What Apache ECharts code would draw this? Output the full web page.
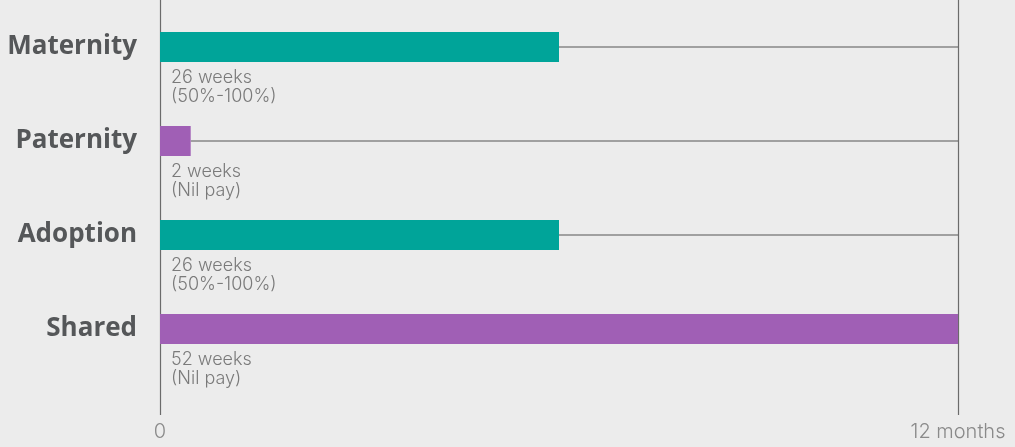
<!DOCTYPE html>
<html>
<head>
<meta charset="utf-8">
<script src="https://cdn.jsdelivr.net/npm/echarts@6/dist/echarts.min.js"></script>
<style>
  html, body { margin: 0; padding: 0; background: #ececec; }
  #chart { width: 1015px; height: 447px; }
</style>
</head>
<body>
<div id="chart"></div>
<script>
var categories = ['Maternity', 'Paternity', 'Adoption', 'Shared'];
var weeks = [26, 2, 26, 52];
var payNotes = ['(50%-100%)', '(Nil pay)', '(50%-100%)', '(Nil pay)'];
var axisMax = 52;
var tickLabels = ['0', '12 months'];

var teal = '#00a499';
var purple = '#a05fb5';

var myChart = echarts.init(document.getElementById('chart'));

var barData = weeks.map(function (w, i) {
    return {
        value: w,
        itemStyle: { color: payNotes[i] === '(Nil pay)' ? purple : teal }
    };
});
var connectorData = weeks.map(function (w, i) { return [w, i]; });

var option = {
    backgroundColor: '#ececec',
    animation: false,
    grid: [
        { left: 160, right: 57, top: 0, height: 376 },
        { left: 160, right: 57, top: 0, bottom: 32 }
    ],
    xAxis: [{
        gridIndex: 0, type: 'value', min: 0, max: axisMax,
        show: false
    }, {
        gridIndex: 1, type: 'value', min: 0, max: axisMax, interval: axisMax,
        axisLine: { show: false },
        axisTick: { show: false },
        splitLine: { show: true, lineStyle: { color: '#6b6b6b', width: 1.2 } },
        axisLabel: {
            margin: 7,
            color: '#8a8a8a',
            fontFamily: 'Inter',
            fontWeight: 300,
            fontSize: 20,
            formatter: function (v) { return v === 0 ? tickLabels[0] : tickLabels[1]; }
        }
    }],
    yAxis: [{
        gridIndex: 0, type: 'category', inverse: true, data: categories,
        axisLine: { show: false },
        axisTick: { show: false },
        axisLabel: {
            margin: 23,
            color: '#555759',
            fontFamily: 'Open Sans',
            fontWeight: 'bold',
            fontSize: 26
        }
    }, {
        gridIndex: 1, type: 'value', show: false, min: 0, max: 1
    }],
    series: [{
        type: 'custom',
        xAxisIndex: 0, yAxisIndex: 0,
        z: 1,
        data: connectorData,
        renderItem: function (params, api) {
            var start = api.coord([api.value(0), api.value(1)]);
            var end = api.coord([axisMax, api.value(1)]);
            return {
                type: 'line',
                shape: { x1: start[0], y1: start[1], x2: end[0], y2: end[1] },
                style: { stroke: '#555555', lineWidth: 1.2 }
            };
        }
    }, {
        type: 'bar',
        xAxisIndex: 0, yAxisIndex: 0,
        z: 2,
        barWidth: 30,
        data: barData,
        label: {
            show: true,
            position: [11, 36],
            color: '#7a7a7a',
            fontFamily: 'Inter',
            fontWeight: 300,
            fontSize: 18,
            lineHeight: 19,
            formatter: function (p) {
                return weeks[p.dataIndex] + ' weeks\n' + payNotes[p.dataIndex];
            }
        }
    }]
};

myChart.setOption(option);
</script>
</body>
</html>
